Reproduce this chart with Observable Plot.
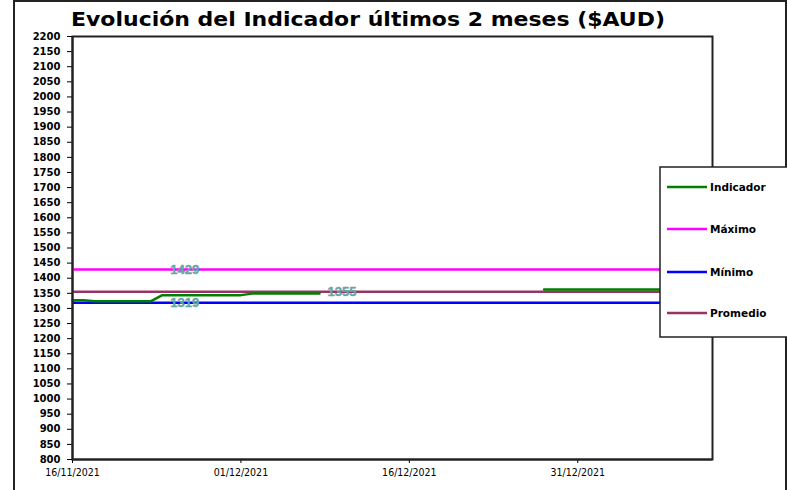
<!DOCTYPE html>
<html>
<head>
<meta charset="utf-8">
<script src="https://cdn.jsdelivr.net/npm/d3@7"></script>
<script src="https://cdn.jsdelivr.net/npm/@observablehq/plot@0.6"></script>
<style>
  html, body { margin: 0; padding: 0; background: #fff; }
  #chart svg { display: block; }
</style>
</head>
<body>
<div id="chart"></div>
<script>
// ---- Data ----
const title = "Evolución del Indicador últimos 2 meses ($AUD)";
const indicatorDates = [
  "2021-11-16","2021-11-17","2021-11-18","2021-11-19","2021-11-20","2021-11-21","2021-11-22","2021-11-23",
  "2021-11-24","2021-11-25","2021-11-26","2021-11-27","2021-11-28","2021-11-29","2021-11-30","2021-12-01",
  "2021-12-02","2021-12-03","2021-12-04","2021-12-05","2021-12-06","2021-12-07","2021-12-08",
  "2021-12-09",
  "2021-12-28","2021-12-29","2021-12-30","2021-12-31","2022-01-01","2022-01-02","2022-01-03","2022-01-04",
  "2022-01-05","2022-01-06","2022-01-07","2022-01-08","2022-01-09","2022-01-10","2022-01-11","2022-01-12"
];
const indicatorValues = [
  1327,1327,1324,1324,1324,1324,1324,1324,
  1344,1344,1344,1344,1344,1344,1344,1344,
  1349,1349,1349,1349,1349,1349,1349,
  null,
  1363,1363,1363,1363,1363,1363,1363,1363,
  1363,1363,1363,1363,1363,1363,1363,1363
];
const maximo = 1429;
const minimo = 1319;
const promedio = 1355;
const labelDates = { max: "2021-11-26", min: "2021-11-26", avg: "2021-12-10" };
const xDomain = ["2021-11-16", "2022-01-12"];
const xTickDates = ["2021-11-16", "2021-12-01", "2021-12-16", "2021-12-31"];
const yTicks = d3.range(800, 2201, 50);
const seriesNames = ["Indicador", "Máximo", "Mínimo", "Promedio"];
const seriesColors = ["#008000", "#ff00ff", "#0000ff", "#993366"];

// ---- Build ----
const parse = d3.utcParse("%Y-%m-%d");
const fmt = d3.utcFormat("%d/%m/%Y");
const indicator = indicatorDates.map((d, i) => ({date: parse(d), value: indicatorValues[i]}));
const labels = [
  {date: parse(labelDates.max), value: maximo},
  {date: parse(labelDates.min), value: minimo},
  {date: parse(labelDates.avg), value: promedio}
];

const W = 787, H = 490;
const chart = Plot.plot({
  width: W,
  height: H,
  marginLeft: 72,
  marginRight: 75,
  marginTop: 36,
  marginBottom: 31,
  style: {background: "#fff", fontFamily: "DejaVu Sans, Verdana, sans-serif"},
  x: {type: "utc", domain: xDomain.map(parse), label: null},
  y: {domain: [800, 2200], label: null},
  marks: [
    Plot.frame({stroke: "#222", strokeWidth: 2}),
    Plot.ruleY([maximo], {stroke: seriesColors[1], strokeWidth: 2.5}),
    Plot.ruleY([minimo], {stroke: seriesColors[2], strokeWidth: 2.5}),
    Plot.ruleY([promedio], {stroke: seriesColors[3], strokeWidth: 2.5}),
    Plot.line(indicator, {x: "date", y: "value", stroke: seriesColors[0], strokeWidth: 2.5}),
    Plot.text(labels, {x: "date", y: "value", text: d => String(d.value), fill: "#5aa9a9", stroke: "#8a9a9a", strokeWidth: 0.4, fontSize: 13, fontWeight: "bold", fontFamily: "Liberation Sans, Arial, sans-serif"}),
    Plot.axisY({ticks: yTicks, tickFormat: d => String(d), tickSize: 5, tickPadding: 7, fontSize: 10, fontWeight: "bold", fontFamily: "DejaVu Sans, Verdana, sans-serif"}),
    Plot.axisX({ticks: xTickDates.map(parse), tickFormat: fmt, tickSize: 4, tickPadding: 5, fontSize: 10.5, fontFamily: "DejaVu Sans Condensed, sans-serif"}),
    Plot.ruleX([parse(xDomain[0])], {stroke: "#222", strokeWidth: 2}),
    Plot.ruleY([800], {stroke: "#222", strokeWidth: 2})
  ]
});

const svg = d3.select(chart);
// outer border
svg.append("rect").attr("x", 14).attr("y", 1).attr("width", 772).attr("height", 500)
  .attr("fill", "none").attr("stroke", "#222").attr("stroke-width", 2);
// title
svg.append("text").attr("x", 368).attr("y", 26).attr("text-anchor", "middle")
  .attr("font-family", "DejaVu Sans, Verdana, sans-serif").attr("font-weight", "bold").attr("font-size", 19)
  .attr("textLength", 594).attr("lengthAdjust", "spacingAndGlyphs")
  .attr("fill", "#000").text(title);
// legend
const lg = svg.append("g");
lg.append("rect").attr("x", 660).attr("y", 167).attr("width", 130).attr("height", 170)
  .attr("fill", "#fff").attr("stroke", "#222").attr("stroke-width", 1.5);
const ys = [187, 229, 272, 313];
seriesNames.forEach((n, i) => {
  lg.append("line").attr("x1", 667).attr("x2", 707).attr("y1", ys[i]).attr("y2", ys[i])
    .attr("stroke", seriesColors[i]).attr("stroke-width", 2.5);
  lg.append("text").attr("x", 710).attr("y", ys[i] + 4).attr("text-anchor", "start")
    .attr("font-size", 10.5).attr("font-weight", "bold")
    .attr("font-family", "DejaVu Sans, Verdana, sans-serif").attr("fill", "#000").text(n);
});
document.getElementById("chart").appendChild(chart);
</script>
</body>
</html>
